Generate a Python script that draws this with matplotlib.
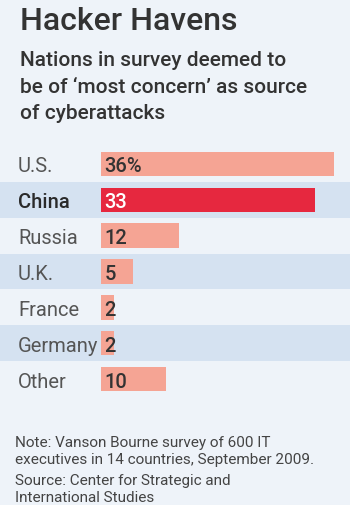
import matplotlib.pyplot as plt
from matplotlib import transforms

plt.rcParams['font.family'] = ['Roboto', 'DejaVu Sans']

# survey data
countries = ['U.S.', 'China', 'Russia', 'U.K.', 'France', 'Germany', 'Other']
shares = [36, 33, 12, 5, 2, 2, 10]
value_labels = ['36%', '33', '12', '5', '2', '2', '10']
highlight = 'China'

title = 'Hacker Havens'
subtitle = ['Nations in survey deemed to',
            'be of \u2018most concern\u2019 as source',
            'of cyberattacks']
notes = ['Note: Vanson Bourne survey of 600 IT',
         'executives in 14 countries, September 2009.']
source = ['Source: Center for Strategic and',
          'International Studies']

bg = '#eef3f9'
band = '#d5e2f1'
salmon = '#f5a494'
red = '#e6283f'

W, H = 350, 506
fig = plt.figure(figsize=(W / 100, H / 100), dpi=100, facecolor=bg)


def fy(px):
    return 1 - px / H


# header
fig.text(20 / W, fy(30), title, fontsize=23, fontweight='medium',
         color='#333333', va='baseline')
for i, line in enumerate(subtitle):
    fig.text(20 / W, fy(66.5 + i * 26.5), line, fontsize=15, fontweight='medium',
             color='#333333', va='baseline')

# bar area
top, bottom = 147, 398
ax = fig.add_axes([0, fy(bottom), 1, (bottom - top) / H])
ax.set_facecolor(bg)
scale = 6.47
ax.set_xlim(-101 / scale, (W - 101) / scale)
ax.set_ylim(len(countries) - 0.5, -0.5)
ax.axis('off')

for i in range(len(countries)):
    if i % 2 == 1:
        ax.axhspan(i - 0.5, i + 0.5, color=band, lw=0)

colors = [red if c == highlight else salmon for c in countries]
ax.barh(range(len(countries)), shares, height=0.685, color=colors, lw=0)

lab_tr = transforms.blended_transform_factory(ax.transAxes, ax.transData)
for i, (c, lab) in enumerate(zip(countries, value_labels)):
    is_hi = c == highlight
    ax.text(18 / W, i, c, transform=lab_tr, fontsize=14.5,
            color='#2a2a2a' if is_hi else '#555555',
            fontweight='medium' if is_hi else 'normal', va='center_baseline')
    ax.annotate(lab, (0, i), xytext=(2.5, 0), textcoords='offset points',
                fontsize=14.5, fontweight='medium',
                color='white' if is_hi else '#333333', va='center_baseline')

# footnotes
for i, line in enumerate(notes):
    fig.text(15 / W, fy(447 + i * 17), line, fontsize=11, color='#444444', va='baseline')
for i, line in enumerate(source):
    fig.text(15 / W, fy(485 + i * 17), line, fontsize=11, color='#444444', va='baseline')

fig.savefig('out.png', dpi=100, facecolor=bg)
